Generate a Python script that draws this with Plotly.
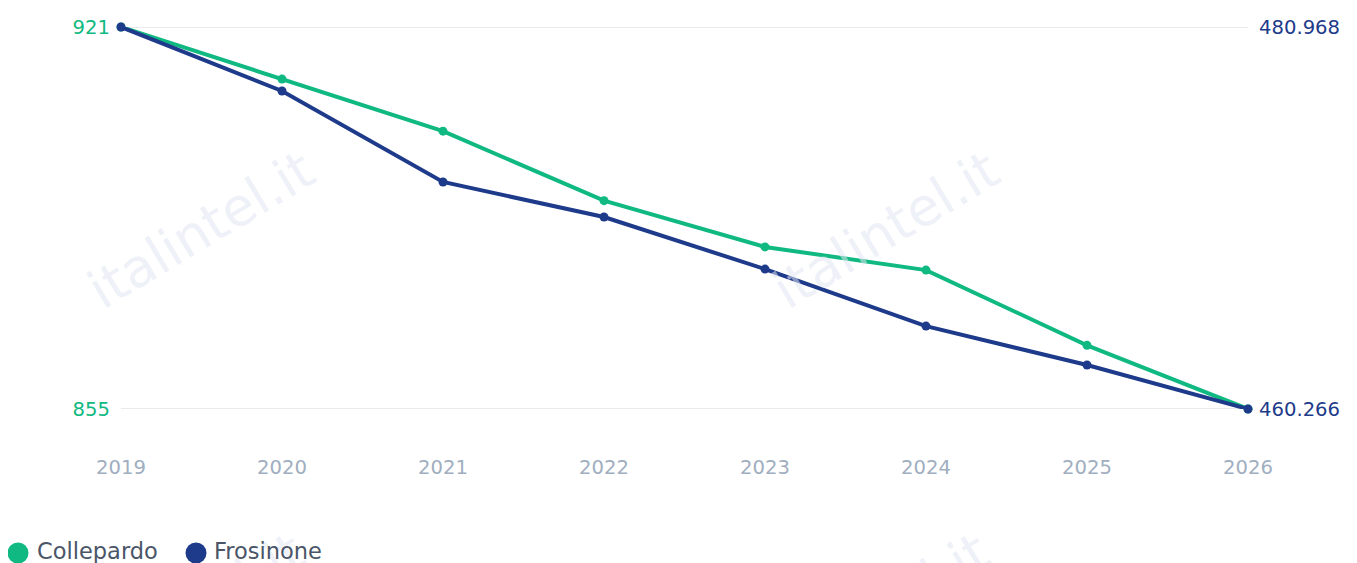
import plotly.graph_objects as go

years = [2019, 2020, 2021, 2022, 2023, 2024, 2025, 2026]
collepardo = [921, 912, 903, 891, 883, 879, 866, 855]
frosinone = [480.968, 477.50, 472.57, 470.67, 467.85, 464.76, 462.65, 460.266]
left_ticks = [855, 921]
right_ticks = [460.266, 480.968]
right_tick_text = ["460.266", "480.968"]
series_names = ["Collepardo", "Frosinone"]

GREEN = "#10b981"
BLUE = "#1e3a8a"
colors = [GREEN, BLUE]

W, H = 1357, 563
L, R, T, B = 113, 117, 19, 162
PW = W - L - R
PH = H - T - B
OFF = 7  # page offset

def px2paper(px, py):
    return (px - OFF - L) / PW, ((T + PH) - (py - OFF)) / PH

fig = go.Figure()
fig.add_trace(go.Scatter(x=years, y=collepardo, mode="lines+markers", name=series_names[0],
                         line=dict(color=GREEN, width=4), marker=dict(size=9, color=GREEN),
                         cliponaxis=False, showlegend=False, yaxis="y"))
fig.add_trace(go.Scatter(x=years, y=frosinone, mode="lines+markers", name=series_names[1],
                         line=dict(color=BLUE, width=4), marker=dict(size=9, color=BLUE),
                         cliponaxis=False, showlegend=False, yaxis="y2"))

shapes = []
for v in left_ticks:
    shapes.append(dict(type="line", xref="paper", yref="y", x0=0, x1=1, y0=v, y1=v,
                       line=dict(color="#ebebeb", width=2), layer="below"))

annots = []
wm = dict(text="italintel.it", showarrow=False, textangle=-31,
          font=dict(size=53, color="rgba(226,230,242,0.55)", family="DejaVu Sans"),
          xref="paper", yref="paper", xanchor="center", yanchor="middle")
for (px, py) in [(200, 228), (885, 228), (190, 610), (875, 610)]:
    a = dict(wm)
    a["x"], a["y"] = px2paper(px, py)
    annots.append(a)

# legend (drawn manually to match large circle markers)
legend_pos = [(17, 34), (195, 211)]
for name, col, (cx, tx) in zip(series_names, colors, legend_pos):
    x0, y0 = px2paper(cx - 10.5, 541.5)
    x1, y1 = px2paper(cx + 10.5, 562.5)
    shapes.append(dict(type="circle", xref="paper", yref="paper", x0=x0, x1=x1, y0=y0, y1=y1,
                       fillcolor=col, line=dict(width=0)))
    ax, ay = px2paper(tx, 550)
    annots.append(dict(text=name, showarrow=False, xref="paper", yref="paper", x=ax, y=ay,
                       xanchor="left", yanchor="middle",
                       font=dict(size=22.5, color="#4a5568", family="DejaVu Sans")))

fig.update_layout(
    width=W, height=H,
    margin=dict(l=L, r=R, t=T, b=B),
    paper_bgcolor="white", plot_bgcolor="white",
    font=dict(family="DejaVu Sans"),
    showlegend=False,
    xaxis=dict(range=[2019, 2026], tickvals=years, showgrid=False, zeroline=False,
               showline=False, tickfont=dict(size=19.6, color="#a0aec0"),
               ticks="", ticklabelstandoff=44, automargin=False),
    yaxis=dict(range=[855, 921], tickvals=left_ticks, showgrid=False,
               zeroline=False, showline=False, automargin=False,
               tickfont=dict(size=19.6, color=GREEN), ticks="", ticklabelstandoff=10),
    yaxis2=dict(range=[460.266, 480.968], tickvals=right_ticks, ticktext=right_tick_text,
                overlaying="y", side="right", showgrid=False, zeroline=False, showline=False,
                automargin=False,
                tickfont=dict(size=19.6, color=BLUE), ticks="", ticklabelstandoff=10),
    shapes=shapes,
    annotations=annots,
)

fig.write_html("out.html")
